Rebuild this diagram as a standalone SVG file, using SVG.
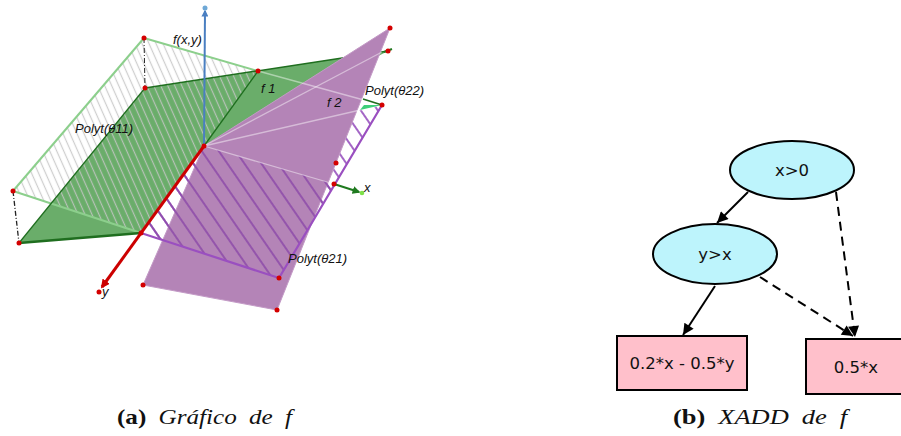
<svg xmlns="http://www.w3.org/2000/svg" width="901" height="436" viewBox="0 0 901 436">
<style>
.lab{font-family:"Liberation Sans",Arial,sans-serif;font-style:italic;font-size:13px;fill:#111}
.node text{font-family:"DejaVu Sans",sans-serif;font-size:16.5px;fill:#111;text-anchor:middle}
.ell{fill:#bdf4fc;stroke:#000;stroke-width:2}
.box{fill:#ffc0cb;stroke:#000;stroke-width:2}
.e{stroke:#000;stroke-width:2;fill:none}
.dash{stroke-dasharray:9,6}
.dot{fill:#d40000}
.cap{font-family:"Liberation Serif","DejaVu Serif",serif;font-size:21px;word-spacing:5px;fill:#111}
.lg{stroke:#8ccf8c;stroke-width:2;fill:none}
.dg{stroke:#1f6e1f;fill:none}
.wl{stroke:#fff;stroke-opacity:0.45;stroke-width:1.3;fill:none}
</style>
<defs>
<pattern id="h1" width="6.4" height="20" patternUnits="userSpaceOnUse" patternTransform="rotate(-24)">
<line x1="3.2" y1="0" x2="3.2" y2="20" stroke="#c6c6c6" stroke-opacity="0.85" stroke-width="1.2"/>
</pattern>
<pattern id="h2" width="14" height="20" patternUnits="userSpaceOnUse" patternTransform="translate(4,0) rotate(-34.6)">
<line x1="7" y1="0" x2="7" y2="20" stroke="#9a56c0" stroke-width="1.8"/>
</pattern>
<pattern id="h3" width="14" height="20" patternUnits="userSpaceOnUse" patternTransform="translate(4,0) rotate(-34.6)">
<line x1="7" y1="0" x2="7" y2="20" stroke="#8a46a8" stroke-opacity="0.85" stroke-width="1.8"/>
</pattern>
<marker id="ah" viewBox="0 0 10 10" refX="10" refY="5" markerWidth="13" markerHeight="11" markerUnits="userSpaceOnUse" orient="auto">
<path d="M0,0 L10,5 L0,10 z" fill="#000"/>
</marker>
<marker id="ar" viewBox="0 0 10 10" refX="8" refY="5" markerWidth="9" markerHeight="9" markerUnits="userSpaceOnUse" orient="auto">
<path d="M0,0 L10,5 L0,10 z" fill="#cc0000"/>
</marker>
<marker id="ab" viewBox="0 0 10 10" refX="8" refY="5" markerWidth="7" markerHeight="7" markerUnits="userSpaceOnUse" orient="auto">
<path d="M0,0 L10,5 L0,10 z" fill="#4a7fc1"/>
</marker>
<marker id="ag" viewBox="0 0 10 10" refX="8" refY="5" markerWidth="8" markerHeight="8" markerUnits="userSpaceOnUse" orient="auto">
<path d="M0,0 L10,5 L0,10 z" fill="#1f7a1f"/>
</marker>
</defs>

<g id="plot3d">
<polygon points="19,243 145,88 388,51 204,146 141,233" fill="#6aad6a"/>
<polygon points="144,38 258,71 141,233 13,191" fill="url(#h1)"/>
<line class="lg" x1="144" y1="38" x2="258" y2="71"/>
<line class="lg" x1="144" y1="38" x2="13" y2="191"/>
<line class="lg" x1="13" y1="191" x2="141" y2="233" stroke-width="1.6"/>
<line x1="144" y1="38" x2="145" y2="88" stroke="#222" stroke-width="1" stroke-dasharray="5,2,1,2"/>
<line x1="13" y1="191" x2="19" y2="243" stroke="#222" stroke-width="1.3" stroke-dasharray="5,2,1,2"/>
<line class="dg" x1="145" y1="88" x2="388" y2="51" stroke-width="1.5"/>
<line class="dg" x1="19" y1="243" x2="145" y2="88" stroke-width="1.2"/>
<line class="dg" x1="19" y1="243" x2="141" y2="233" stroke-width="2.5"/>
<line class="dg" x1="258" y1="71" x2="204" y2="146" stroke-width="1.3"/>
<polygon points="204,146 141,233 279,278 382,105" fill="url(#h2)"/>
<polygon points="390,28 204,146 143,285 277,310" fill="#b484b7" stroke="#c39ac6" stroke-width="1"/>
<polygon points="204,146 141,233 279,278 334,184" fill="url(#h3)"/>
<line class="wl" x1="204" y1="146" x2="382" y2="52"/>
<line class="wl" x1="204" y1="146" x2="382" y2="105"/>
<line class="wl" x1="204" y1="146" x2="334" y2="184"/>
<line class="wl" x1="258" y1="71" x2="382" y2="105"/>
<polyline points="141,233 279,278 382,105" fill="none" stroke="#9a4fc0" stroke-width="2.2"/>
<polygon points="360,110 382,105 364,105" fill="#3ecf7a"/>
<line class="dg" x1="363" y1="99" x2="382" y2="105" stroke-width="1.8"/>
<line x1="384" y1="52" x2="392" y2="49" stroke="#1f7a1f" stroke-width="2"/>
<line x1="334" y1="184" x2="359" y2="192" stroke="#1f7a1f" stroke-width="2.2" marker-end="url(#ag)"/>
<circle cx="362" cy="193" r="2.3" fill="#7ee04a"/>
<line x1="204" y1="146" x2="205" y2="11" stroke="#4a7fc1" stroke-width="2" marker-end="url(#ab)"/>
<circle cx="205" cy="8" r="2.5" fill="#6ea8d6"/>
<line x1="204" y1="146" x2="102" y2="287" stroke="#cc0000" stroke-width="3" marker-end="url(#ar)"/>
<g class="dot">
<circle cx="144" cy="38" r="2.5"/><circle cx="145" cy="88" r="2.5"/><circle cx="258" cy="71" r="2.5"/>
<circle cx="13" cy="191" r="2.5"/><circle cx="19" cy="243" r="2.5"/><circle cx="141" cy="233" r="2.5"/>
<circle cx="204" cy="146" r="2.5"/><circle cx="390" cy="28" r="2.5"/><circle cx="388" cy="51" r="2.5"/>
<circle cx="382" cy="105" r="2.5"/><circle cx="336" cy="163" r="2.5"/><circle cx="334" cy="184" r="2.5"/>
<circle cx="279" cy="278" r="2.5"/><circle cx="143" cy="285" r="2.5"/><circle cx="277" cy="310" r="2.5"/>
<circle cx="99" cy="292" r="2.5"/>
</g>
<text class="lab" x="173" y="44">f(x,y)</text>
<text class="lab" x="261" y="93">f 1</text>
<text class="lab" x="327" y="107">f 2</text>
<text class="lab" x="365" y="95">Polyt(θ22)</text>
<text class="lab" x="75" y="133">Polyt(θ11)</text>
<text class="lab" x="288" y="263">Polyt(θ21)</text>
<text class="lab" x="364" y="192">x</text>
<text class="lab" x="102" y="296">y</text>
</g>

<g id="edges">
<line class="e" x1="748" y1="192" x2="717" y2="223" marker-end="url(#ah)"/>
<line class="e dash" x1="836" y1="192" x2="855" y2="337" marker-end="url(#ah)"/>
<line class="e" x1="715" y1="286" x2="683" y2="335" marker-end="url(#ah)"/>
<line class="e dash" x1="760" y1="277" x2="853" y2="336" marker-end="url(#ah)"/>
</g>
<g id="n_x0" class="node">
<ellipse class="ell" cx="792" cy="170" rx="62" ry="29"/>
<text x="792" y="176">x&gt;0</text>
</g>
<g id="n_yx" class="node">
<ellipse class="ell" cx="715" cy="254" rx="62" ry="30"/>
<text x="715" y="260">y&gt;x</text>
</g>
<g id="n_leaf1" class="node">
<rect class="box" x="617" y="336" width="130" height="54"/>
<text x="682" y="369">0.2*x - 0.5*y</text>
</g>
<g id="n_leaf2" class="node">
<rect class="box" x="806" y="339" width="100" height="55"/>
<text x="856" y="373">0.5*x</text>
</g>

<text class="cap" x="117" y="424" textLength="175" lengthAdjust="spacingAndGlyphs"><tspan font-weight="bold">(a)</tspan> <tspan font-style="italic">Gráfico de f</tspan></text>
<text class="cap" x="673" y="424" textLength="174" lengthAdjust="spacingAndGlyphs"><tspan font-weight="bold">(b)</tspan> <tspan font-style="italic">XADD de f</tspan></text>
</svg>
